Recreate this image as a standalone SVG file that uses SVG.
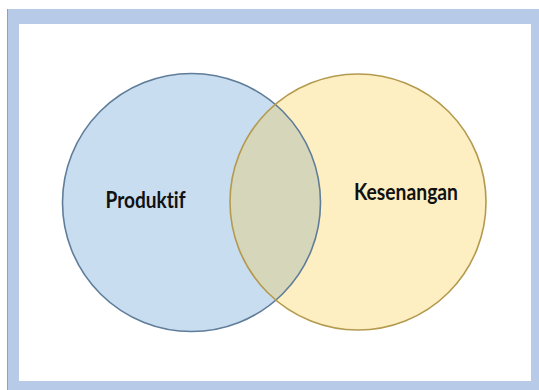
<svg xmlns="http://www.w3.org/2000/svg" width="539" height="390" viewBox="0 0 539 390">
<style>
.lbl{font-family:Lato,"Open Sans","Liberation Sans",sans-serif;font-weight:bold;fill:#111;font-variant-ligatures:none}
</style>
<defs>
<clipPath id="clipL"><circle cx="191.5" cy="202.5" r="129"/></clipPath>
</defs>
<rect x="0" y="0" width="539" height="390" fill="#ffffff"/>
<rect x="7" y="9" width="532" height="381" fill="#9aa0a8"/>
<rect x="8" y="9" width="531" height="381" fill="#b7cbe9"/>
<rect x="19" y="24" width="512" height="357" fill="#ffffff"/>
<g id="produktif">
<circle cx="191.5" cy="202.5" r="129" fill="#c9ddf1"/>
</g>
<g id="kesenangan">
<circle cx="358" cy="202" r="128" fill="#fdefc2"/>
</g>
<g id="overlap">
<circle cx="358" cy="202" r="128" fill="#d6d7ba" clip-path="url(#clipL)"/>
</g>
<g id="strokes" fill="none" stroke-width="1.6">
<circle cx="191.5" cy="202.5" r="129" stroke="#5f7d99"/>
<circle cx="358" cy="202" r="128" stroke="#b49a4e"/>
</g>
<text class="lbl" x="145.5" y="208" font-size="22" text-anchor="middle" textLength="80" lengthAdjust="spacingAndGlyphs">Produktif</text>
<text class="lbl" x="406" y="199.5" font-size="23" text-anchor="middle" textLength="104" lengthAdjust="spacingAndGlyphs">Kesenangan</text>
</svg>
